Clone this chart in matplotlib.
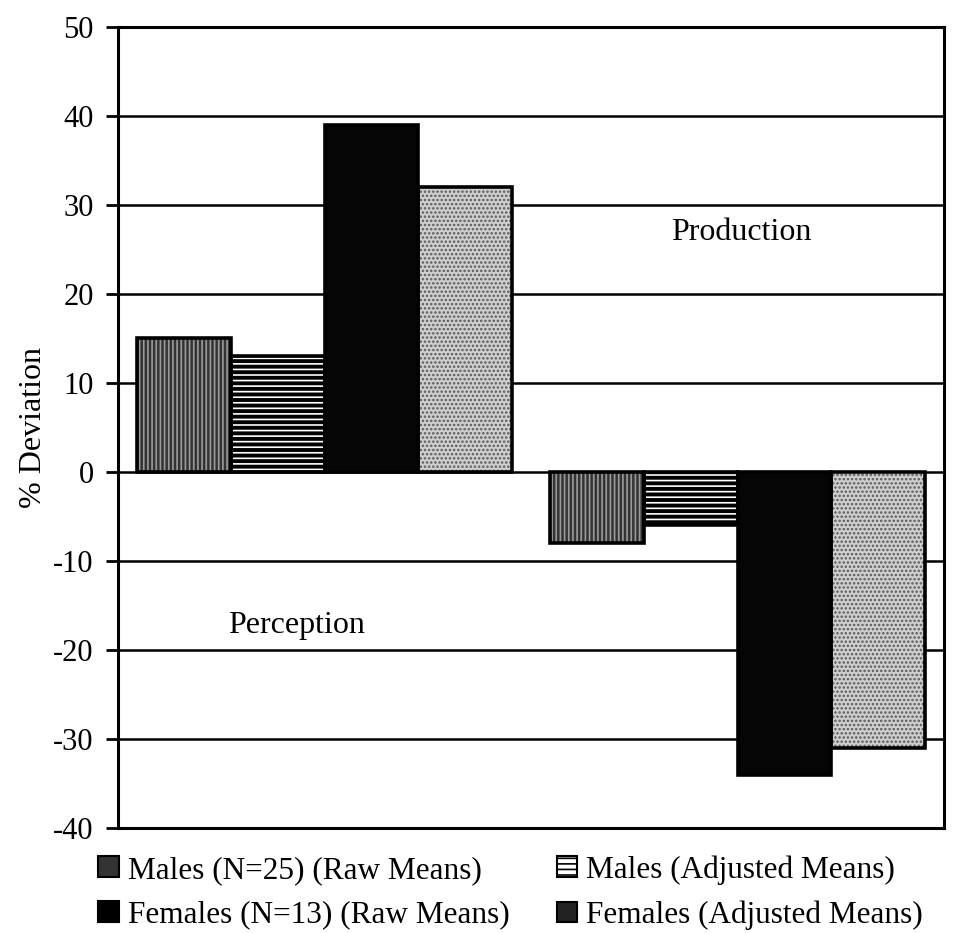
import matplotlib
matplotlib.use("Agg")
import matplotlib.pyplot as plt
import numpy as np
from matplotlib.patches import Patch

plt.rcParams['font.family'] = ['Liberation Serif', 'DejaVu Serif']
plt.rcParams['hatch.linewidth'] = 1.2

# Data
groups = ["Production", "Perception"]
series = ["Males (N=25) (Raw Means)", "Males (Adjusted Means)",
          "Females (N=13) (Raw Means)", "Females (Adjusted Means)"]
values = {
    "Males (N=25) (Raw Means)": [15, -8],
    "Males (Adjusted Means)": [13, -6],
    "Females (N=13) (Raw Means)": [39, -34],
    "Females (Adjusted Means)": [32, -31],
}
yticks = [-40, -30, -20, -10, 0, 10, 20, 30, 40, 50]

# Fill styles: (face, hatch colour, hatch)
styles = [
    ("#333333", "#9a9a9a", "||||"),
    ("#000000", "#ffffff", "---"),
    ("#050505", "#050505", None),
    ("#cfcfcf", "#5a5a5a", "...."),
]

fig = plt.figure(figsize=(9.62, 9.33), dpi=100)
ax = fig.add_axes([0.1227, 0.1125, 0.8586, 0.8586])

x = np.arange(len(groups))
n = len(series)
group_w = 0.91
bw = group_w / n

for i, s in enumerate(series):
    face, hcol, hatch = styles[i]
    pos = x - group_w / 2 + bw * (i + 0.5)
    ax.bar(pos, values[s], width=bw, color=face, edgecolor=hcol,
           hatch=hatch, linewidth=0, zorder=3)
    ax.bar(pos, values[s], width=bw, fill=False, edgecolor="black",
           linewidth=2.6, zorder=4)

ax.set_xlim(-0.5, 1.5)
ax.set_ylim(-40, 50)
ax.set_yticks(yticks)
ax.set_yticklabels([str(t) for t in yticks], fontsize=22)
ax.set_xticks([])
ax.yaxis.grid(True, color="black", linewidth=1.8, zorder=0)
ax.set_axisbelow(True)
for sp in ax.spines.values():
    sp.set_linewidth(2.2)
ax.tick_params(axis="y", length=8.6, width=2, pad=9)
ax.set_ylabel("% Deviation", fontsize=23, labelpad=4)

ax.text(1.009, 26.9, "Production", fontsize=23, ha="center", va="center", zorder=5)
ax.text(-0.069, -17.2, "Perception", fontsize=23, ha="center", va="center", zorder=5)

# Legend entries read row by row: Males raw, Males adj / Females raw, Females adj
legend_faces = ["#333333", "#ffffff", "#000000", "#222222"]
legend_hatch = [None, "---", None, None]
handles = [Patch(facecolor=legend_faces[i], edgecolor="black", linewidth=1.5,
                 hatch=legend_hatch[i]) for i in range(n)]
order = [0, 2, 1, 3]
fig.legend([handles[i] for i in order], [series[i] for i in order],
           loc="upper left", bbox_to_anchor=(0.086, 0.1),
           ncol=2, frameon=False, fontsize=22.5, handlelength=0.65,
           handleheight=0.65, handletextpad=0.3, columnspacing=1.5,
           labelspacing=0.5, borderpad=0)

fig.savefig("out.png", dpi=100)
